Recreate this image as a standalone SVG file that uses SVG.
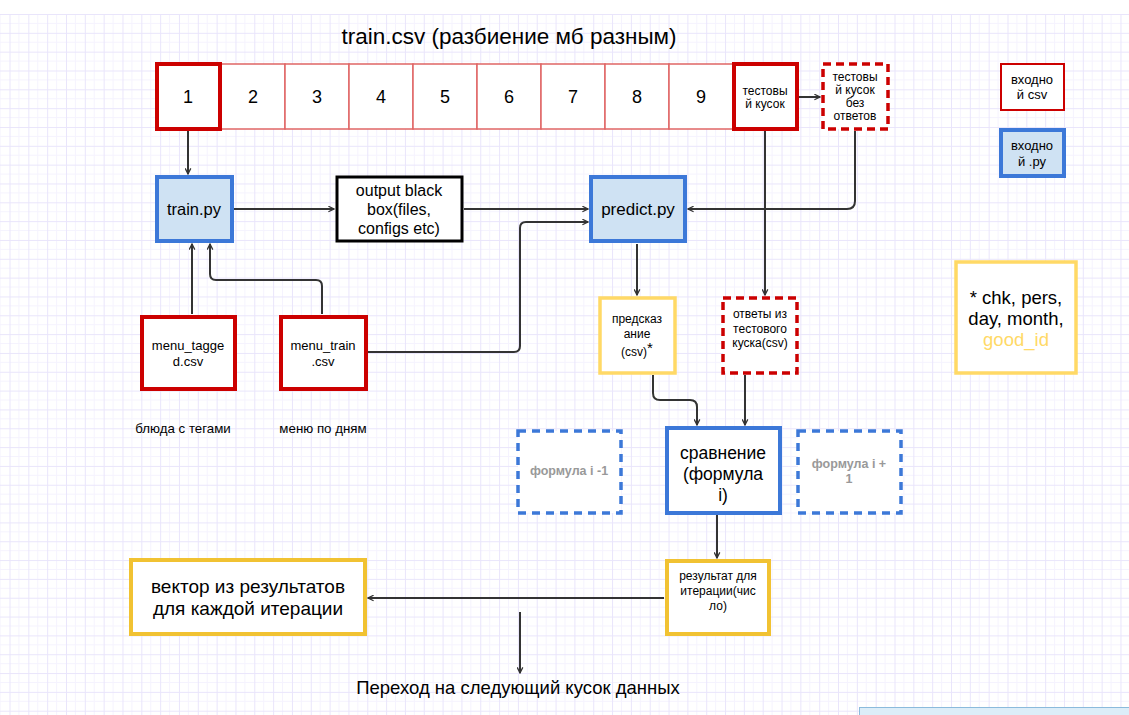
<svg xmlns="http://www.w3.org/2000/svg" width="1129" height="715" viewBox="0 0 1129 715">
<style>
text{font-family:"Liberation Sans",Arial,sans-serif;fill:#000;text-anchor:middle}
.conn{fill:none;stroke:#333;stroke-width:2}
.redT{fill:#fff;stroke:#cc0000;stroke-width:4}
.redL{fill:#fff;stroke:#e06666;stroke-width:1.5}
.redD{fill:#fff;stroke:#cc0000;stroke-width:3.5;stroke-dasharray:8 5}
.blue{fill:#cfe2f3;stroke:#3c78d8;stroke-width:4}
.blueW{fill:#fff;stroke:#3c78d8;stroke-width:4}
.blueD{fill:#fff;stroke:#3c78d8;stroke-width:3.5;stroke-dasharray:8 6}
.yel{fill:#fff;stroke:#f1c232;stroke-width:4}
.yelL{fill:#fff;stroke:#ffd966;stroke-width:3.5}
.gray{fill:#999;font-weight:bold;font-size:12.5px}
</style>
<defs>
<pattern id="grid" x="9.5" y="14" width="18.83" height="18.83" patternUnits="userSpaceOnUse">
<path d="M9.4 0V18.83M0 9.4H18.83" stroke="#f5f3fe" stroke-width="1"/>
<path d="M0.5 0V18.83M0 0.5H18.83" stroke="#e9e5fb" stroke-width="1"/>
</pattern>
<marker id="arr" viewBox="0 0 10 10" refX="9" refY="5" markerWidth="7" markerHeight="7" markerUnits="userSpaceOnUse" orient="auto">
<path d="M1 1L9 5L1 9" fill="none" stroke="#333" stroke-width="1.8"/>
</marker>
</defs>
<rect width="1129" height="715" fill="#fff"/>
<rect x="0" y="14" width="1129" height="701" fill="url(#grid)"/>
<text x="509" y="44" font-size="22.5">train.csv (разбиение мб разным)</text>

<g id="connectors">
<path class="conn" d="M188 131V174" marker-end="url(#arr)"/>
<path class="conn" d="M234 209H334" marker-end="url(#arr)"/>
<path class="conn" d="M464 209H588" marker-end="url(#arr)"/>
<path class="conn" d="M799 97H820" marker-end="url(#arr)"/>
<path class="conn" d="M855 131V201Q855 209 847 209H688" marker-end="url(#arr)"/>
<path class="conn" d="M765 131V295" marker-end="url(#arr)"/>
<path class="conn" d="M637 244V295" marker-end="url(#arr)"/>
<path class="conn" d="M192 314V244" marker-end="url(#arr)"/>
<path class="conn" d="M322 314V286Q322 280 316 280H216Q210 280 210 274V244" marker-end="url(#arr)"/>
<path class="conn" d="M368 352H514Q520 352 520 346V228Q520 222 526 222H588" marker-end="url(#arr)"/>
<path class="conn" d="M653 375V393Q653 400 660 400H690Q697 400 697 407V425" marker-end="url(#arr)"/>
<path class="conn" d="M745 375V425" marker-end="url(#arr)"/>
<path class="conn" d="M717 515V558" marker-end="url(#arr)"/>
<path class="conn" d="M664 598H368" marker-end="url(#arr)"/>
<path class="conn" d="M520 612V673" marker-end="url(#arr)"/>
</g>

<g id="cells">
<rect class="redL" x="220" y="64" width="65" height="65"/>
<rect class="redL" x="285" y="64" width="64" height="65"/>
<rect class="redL" x="349" y="64" width="64" height="65"/>
<rect class="redL" x="413" y="64" width="64" height="65"/>
<rect class="redL" x="477" y="64" width="64" height="65"/>
<rect class="redL" x="541" y="64" width="64" height="65"/>
<rect class="redL" x="605" y="64" width="64" height="65"/>
<rect class="redL" x="669" y="64" width="64" height="65"/>
<g font-size="18">
<text x="253" y="103">2</text><text x="317" y="103">3</text><text x="381" y="103">4</text><text x="445" y="103">5</text>
<text x="509" y="103">6</text><text x="573" y="103">7</text><text x="637" y="103">8</text><text x="701" y="103">9</text>
</g>
</g>
<g id="cell1"><rect class="redT" x="157" y="64" width="63" height="65"/><text x="188" y="103" font-size="18">1</text></g>
<g id="test"><rect class="redT" x="734" y="64" width="63" height="65"/>
<text x="765" y="95" font-size="12">тестовы</text><text x="765" y="108" font-size="12">й кусок</text></g>
<g id="testNoAns"><rect class="redD" x="823" y="64" width="65" height="65"/>
<text x="855" y="81" font-size="12">тестовы</text><text x="855" y="94" font-size="12">й кусок</text><text x="855" y="107" font-size="12">без</text><text x="855" y="120" font-size="12">ответов</text></g>

<g id="legendCsv"><rect fill="#fff" stroke="#cc0000" stroke-width="2" x="1001" y="64" width="63" height="46"/>
<text x="1032" y="84" font-size="13">входно</text><text x="1032" y="99" font-size="13">й csv</text></g>
<g id="legendPy"><rect class="blue" stroke-width="3" x="1001" y="130" width="63" height="46"/>
<text x="1032" y="150" font-size="13">входно</text><text x="1032" y="166" font-size="13">й .ру</text></g>

<g id="trainpy"><rect class="blue" x="157" y="177" width="75" height="64"/><text x="194" y="215" font-size="16.5">train.py</text></g>
<g id="blackbox"><rect fill="#fff" stroke="#000" stroke-width="3" x="337" y="177" width="125" height="64"/>
<text x="399" y="196" font-size="16">output black</text><text x="399" y="215" font-size="16">box(files,</text><text x="399" y="234" font-size="16">configs etc)</text></g>
<g id="predictpy"><rect class="blue" x="591" y="177" width="94" height="64"/><text x="638" y="215" font-size="17">predict.py</text></g>

<g id="pred"><rect class="yelL" x="600" y="298" width="75" height="75"/>
<text x="637" y="323" font-size="12">предсказ</text><text x="637" y="338" font-size="12">ание</text><text x="637" y="356" font-size="12">(csv)<tspan font-size="15" dy="-3">*</tspan></text></g>
<g id="answers"><rect class="redD" x="723" y="298" width="74" height="75"/>
<text x="760" y="318" font-size="12">ответы из</text><text x="760" y="333" font-size="12">тестового</text><text x="760" y="347" font-size="12">куска(csv)</text></g>

<g id="menuTagged"><rect class="redT" x="142" y="317" width="93" height="72"/>
<text x="188" y="350" font-size="13">menu_tagge</text><text x="188" y="366" font-size="13">d.csv</text></g>
<g id="menuTrain"><rect class="redT" x="281" y="317" width="85" height="72"/>
<text x="323" y="350" font-size="13">menu_train</text><text x="323" y="366" font-size="13">.csv</text></g>
<text x="183" y="433" font-size="13.3">блюда с тегами</text>
<text x="323" y="433" font-size="13.3">меню по дням</text>

<g id="note"><rect class="yelL" stroke="#ffe599" x="956" y="262" width="120" height="111"/>
<text x="1016" y="304" font-size="18.5">* chk, pers,</text><text x="1016" y="325" font-size="18.5">day, month,</text><text x="1016" y="346" font-size="18.5" style="fill:#ffd966">good_id</text></g>

<g id="fPrev"><rect class="blueD" x="518" y="431" width="103" height="82"/><text class="gray" x="569" y="475">формула i -1</text></g>
<g id="compare"><rect class="blueW" x="667" y="428" width="113" height="85"/>
<text x="723" y="459" font-size="17.5">сравнение</text><text x="723" y="480" font-size="17.5">(формула</text><text x="723" y="501" font-size="17.5">i)</text></g>
<g id="fNext"><rect class="blueD" x="798" y="431" width="103" height="82"/><text class="gray" x="849" y="468">формула i +</text><text class="gray" x="849" y="483">1</text></g>

<g id="result"><rect class="yel" stroke-width="3.5" x="667" y="561" width="102" height="73"/>
<text x="718" y="580" font-size="12">результат для</text><text x="718" y="595" font-size="12">итерации(чис</text><text x="718" y="610" font-size="12">ло)</text></g>
<g id="vector"><rect class="yel" x="131" y="560" width="234" height="74"/>
<text x="248" y="593" font-size="19">вектор из результатов</text><text x="248" y="615" font-size="19">для каждой итерации</text></g>
<text x="518" y="694" font-size="18.5">Переход на следующий кусок данных</text>
<rect x="859.5" y="707.5" width="275" height="12" fill="#dcedf8" stroke="#8bbbdc" stroke-width="1"/>
</svg>
